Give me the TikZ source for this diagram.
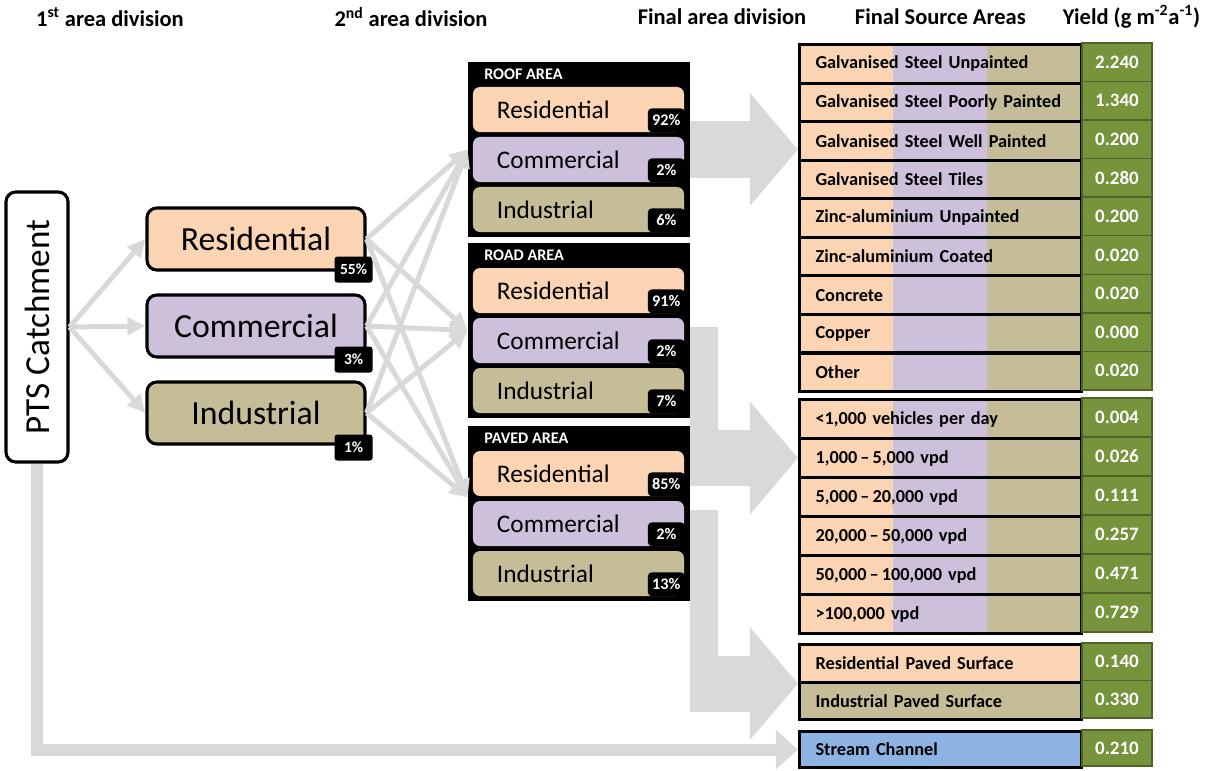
\documentclass[tikz,border=0pt]{standalone}
\usepackage{fontspec}
\setmainfont{Carlito}
\usepackage{tikz}
\usetikzlibrary{arrows.meta,positioning,calc}
\definecolor{rescol}{RGB}{251,212,180}
\definecolor{comcol}{RGB}{204,192,218}
\definecolor{indcol}{RGB}{196,189,151}
\definecolor{strcol}{RGB}{141,179,226}
\definecolor{yldgreen}{RGB}{119,147,60}
\definecolor{yldedge}{RGB}{79,98,40}
\definecolor{arrgray}{RGB}{217,217,217}
\tikzset{
  header/.style={font=\fontsize{16}{19}\selectfont\bfseries},
  catchbox/.style={rectangle, rounded corners=7pt, draw=black, line width=2.2pt, fill=white, minimum width=1.55cm, minimum height=6.75cm, font=\fontsize{25}{30}\selectfont},
  landbox/.style={rectangle, rounded corners=7pt, draw=black, line width=2.2pt, minimum width=5.45cm, minimum height=1.55cm, font=\fontsize{24}{28}\selectfont},
  pcttag/.style={rectangle, rounded corners=2pt, fill=black, text=white, minimum width=0.95cm, minimum height=0.65cm, inner sep=1pt, font=\fontsize{11}{13}\selectfont\bfseries},
  areabox/.style={rectangle, fill=black, minimum width=5.55cm, minimum height=4.375cm},
  areatitle/.style={anchor=west, text=white, inner sep=0pt, font=\fontsize{11.5}{13}\selectfont\bfseries},
  subbox/.style={rectangle, rounded corners=5pt, minimum width=5.275cm, minimum height=1.125cm, text width=4.075cm, inner xsep=0.6cm, align=left, font=\fontsize{18}{21}\selectfont},
  subtag/.style={rectangle, rounded corners=3pt, fill=black, text=white, minimum width=0.925cm, minimum height=0.6cm, inner sep=1pt, font=\fontsize{11.5}{13}\selectfont\bfseries},
  srcrow/.style={rectangle, draw=black, line width=2.2pt, anchor=north west, minimum width=7.05cm, minimum height=0.9625cm, text width=6.25cm, inner xsep=0.4cm, align=left, font=\fontsize{13}{15}\selectfont\bfseries},
  yldcell/.style={rectangle, fill=yldgreen, draw=yldedge, line width=1pt, minimum width=1.75cm, minimum height=0.9625cm, text=white, font=\fontsize{13.5}{15}\selectfont\bfseries},
  fanarrow/.style={-{Triangle[length=0.45cm, width=0.42cm]}, line width=0.125cm, draw=arrgray},
  streamarrow/.style={-{Triangle[length=0.55cm, width=0.95cm]}, line width=0.3cm, draw=arrgray},
  bentshaft/.style={line width=0.7cm, draw=arrgray},
  bigarrow/.style={-{Triangle[length=1.2cm, width=2.75cm]}, line width=1.4cm, draw=arrgray}
}

\begin{document}
\begin{tikzpicture}[x=0.025cm, y=-0.025cm]
\useasboundingbox (0,0) rectangle (1213,771);

\node[header] at (110,17) {1\textsuperscript{st} area division};
\node[header] at (411,17) {2\textsuperscript{nd} area division};
\node[header] at (722,17) {Final area division};
\node[header, anchor=west] at (850,17) {Final Source Areas};
\node[header, anchor=east] at (1205,17) {Yield (g m\textsuperscript{-2}a\textsuperscript{-1})};

\node[catchbox] (pts) at (37,327) {\rotatebox{90}{PTS Catchment}};

\node[landbox, fill=rescol] (res1) at (256,239) {Residential};
\node[landbox, fill=comcol] (com1) at (256,326) {Commercial};
\node[landbox, fill=indcol] (ind1) at (256,413) {Industrial};
\node[pcttag] at ($(res1.south east)+(-13,-2)$) {55\%};
\node[pcttag] at ($(com1.south east)+(-13,1)$) {3\%};
\node[pcttag] at ($(ind1.south east)+(-13,2)$) {1\%};

\node[areabox] (roofgrp) at (579,149.5) {};
\node[areatitle] at (484,74) {ROOF AREA};
\node[subbox, fill=rescol] (roofres) at (578.5,109.5) {Residential};
\node[subbox, fill=comcol] (roofcom) at (578.5,159.5) {Commercial};
\node[subbox, fill=indcol] (roofind) at (578.5,209.5) {Industrial};
\node[subtag] at ($(roofres.south east)+(-18,-12)$) {92\%};
\node[subtag] at ($(roofcom.south east)+(-18,-12)$) {2\%};
\node[subtag] at ($(roofind.south east)+(-18,-12)$) {6\%};

\node[areabox] (roadgrp) at (579,330.5) {};
\node[areatitle] at (484,255) {ROAD AREA};
\node[subbox, fill=rescol] (roadres) at (578.5,290.5) {Residential};
\node[subbox, fill=comcol] (roadcom) at (578.5,340.5) {Commercial};
\node[subbox, fill=indcol] (roadind) at (578.5,390.5) {Industrial};
\node[subtag] at ($(roadres.south east)+(-18,-12)$) {91\%};
\node[subtag] at ($(roadcom.south east)+(-18,-12)$) {2\%};
\node[subtag] at ($(roadind.south east)+(-18,-12)$) {7\%};

\node[areabox] (pavgrp) at (579,513.5) {};
\node[areatitle] at (484,438) {PAVED AREA};
\node[subbox, fill=rescol] (pavres) at (578.5,473.5) {Residential};
\node[subbox, fill=comcol] (pavcom) at (578.5,523.5) {Commercial};
\node[subbox, fill=indcol] (pavind) at (578.5,573.5) {Industrial};
\node[subtag] at ($(pavres.south east)+(-18,-12)$) {85\%};
\node[subtag] at ($(pavcom.south east)+(-18,-12)$) {2\%};
\node[subtag] at ($(pavind.south east)+(-18,-12)$) {13\%};

\fill[rescol] (798,43) rectangle (893,390);
\fill[comcol] (893,43) rectangle (987,390);
\fill[indcol] (987,43) rectangle (1080,390);
\foreach \txt/\val [count=\i] in {Galvanised Steel Unpainted/2.240, Galvanised Steel Poorly Painted/1.340,
    Galvanised Steel Well Painted/0.200, Galvanised Steel Tiles/0.280, Zinc-aluminium Unpainted/0.200,
    Zinc-aluminium Coated/0.020, Concrete/0.020, Copper/0.000, Other/0.020} {
  \node[srcrow] (rf\i) at (798,{43+(\i-1)*38.55}) {\txt};
  \node[yldcell] (rfy\i) at (1117,{43+(\i-0.5)*38.55}) {\val};
}

\fill[rescol] (798,398) rectangle (893,632);
\fill[comcol] (893,398) rectangle (987,632);
\fill[indcol] (987,398) rectangle (1080,632);
\foreach \txt/\val [count=\i] in {{<1,000 vehicles per day}/0.004, {1,000\,–\,5,000 vpd}/0.026,
    {5,000\,–\,20,000 vpd}/0.111, {20,000\,–\,50,000 vpd}/0.257, {50,000\,–\,100,000 vpd}/0.471,
    {>100,000 vpd}/0.729} {
  \node[srcrow, minimum height=0.975cm] (rd\i) at (798,{398+(\i-1)*39}) {\txt};
  \node[yldcell, minimum height=0.975cm] (rdy\i) at (1117,{398+(\i-0.5)*39}) {\val};
}

\node[srcrow, fill=rescol, minimum height=0.9375cm] (pv1) at (798,643) {Residential Paved Surface};
\node[srcrow, fill=indcol, minimum height=0.9375cm] (pv2) at (798,680.5) {Industrial Paved Surface};
\node[yldcell, minimum height=0.9375cm] (pvy1) at (1117,661.75) {0.140};
\node[yldcell, minimum height=0.9375cm] (pvy2) at (1117,699.25) {0.330};

\node[srcrow, fill=strcol, minimum height=0.9cm] (strm) at (798,730) {Stream Channel};
\node[yldcell, minimum height=0.9cm] (strmy) at (1117,748) {0.210};

\draw[fanarrow] (pts.east) -- (res1.west);
\draw[fanarrow] (pts.east) -- (com1.west);
\draw[fanarrow] (pts.east) -- (ind1.west);
\coordinate (pavin) at ($(pavgrp.west)+(0,-16)$);
\foreach \src in {res1,com1,ind1}
  \foreach \dst in {roofgrp.west,roadgrp.west,pavin}
    \draw[fanarrow] (\src.east) -- (\dst);

\draw[streamarrow] (pts.south) |- (strm.west);

\draw[bigarrow] (roofgrp.east) -- (roofgrp.east -| rf1.west);

\coordinate (rdbend) at ($(rd2.west)+(-94,0)$);
\draw[bentshaft] (roadcom.east -| roadgrp.east) -| (rdbend);
\draw[bigarrow] ($(rdbend)+(-14,0)$) -- (rd2.west);

\coordinate (pvbend) at ($(pv1.south west)+(-94,0)$);
\draw[bentshaft] (pavcom.east -| pavgrp.east) -| (pvbend);
\draw[bigarrow] ($(pvbend)+(-14,0)$) -- (pv1.south west);
\end{tikzpicture}
\end{document}
